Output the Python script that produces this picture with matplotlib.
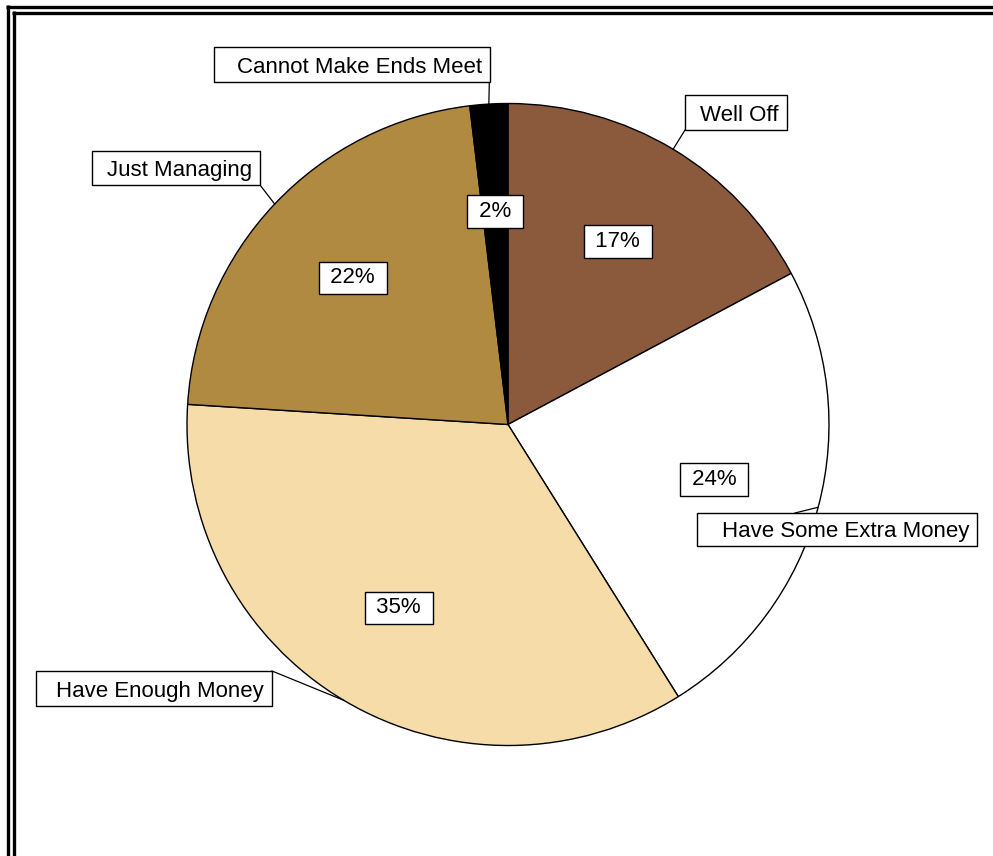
import matplotlib
matplotlib.use('Agg')
import matplotlib.pyplot as plt
import numpy as np
from matplotlib.patches import Rectangle
from matplotlib.lines import Line2D

categories = ["Well Off", "Have Some Extra Money", "Have Enough Money",
              "Just Managing", "Cannot Make Ends Meet"]
values = [17.2, 23.9, 34.9, 22.1, 1.9]
colors = ["#8B5A3C", "#FFFFFF", "#F5DCA8", "#B08A40", "#000000"]

plt.rcParams['font.family'] = ['Liberation Sans', 'DejaVu Sans']

W, H = 993, 856
fig = plt.figure(figsize=(W / 100, H / 100), dpi=100)
ax = fig.add_axes([0, 0, 1, 1])

cx, cy, R = 508, H - 424.5, 321
wedges, texts, autotexts = ax.pie(
    values, colors=colors, startangle=90, counterclock=False,
    center=(cx, cy), radius=R,
    autopct=lambda p: f" {p:.0f}% ", pctdistance=0.665,
    wedgeprops=dict(edgecolor='black', linewidth=1),
    textprops=dict(fontsize=16, color='black'), frame=True)
for t in autotexts:
    t.set_bbox(dict(boxstyle='square,pad=0.26', facecolor='white',
                    edgecolor='black', linewidth=1))
    t.set_zorder(5)

# label boxes layout (pixel coords: x0, y0(top), x1, y1(bottom)) and leader start
label_layout = {
    "Well Off": ((685, 95, 787, 130), (685, 130)),
    "Have Some Extra Money": ((697, 513, 977, 546), (795, 513)),
    "Have Enough Money": ((36, 671, 272, 706), (272, 671)),
    "Just Managing": ((92, 151, 260, 185), (260, 185)),
    "Cannot Make Ends Meet": ((214, 47, 490, 82), (490, 50)),
}

for w, name in zip(wedges, categories):
    (x0, y0, x1, y1), (lx, ly) = label_layout[name]
    mid = np.deg2rad((w.theta1 + w.theta2) / 2)
    ex, ey = cx + R * np.cos(mid), cy + R * np.sin(mid)
    ax.plot([lx, ex], [H - ly, ey], color='black', linewidth=0.9, zorder=3)
    ax.add_patch(Rectangle((x0, H - y1), x1 - x0, y1 - y0, facecolor='white',
                           edgecolor='black', linewidth=1, zorder=4))
    ax.text(x1 - 8, H - (y0 + y1) / 2, name, ha='right', va='center_baseline',
            fontsize=16, color='black', zorder=5)

ax.set_xlim(0, W)
ax.set_ylim(0, H)
ax.set_aspect('auto')
ax.axis('off')

# double frame (pixel positions, butt caps meeting at corners)
lw_pt = 2.4
hw = lw_pt * 100 / 72 / 2
for xv, yh in ((8, 7), (13.5, 12.5)):
    fig.add_artist(Line2D([xv / W, xv / W], [0, 1 - (yh - hw) / H], color='black',
                          linewidth=lw_pt, solid_capstyle='butt',
                          transform=fig.transFigure))
    fig.add_artist(Line2D([(xv - hw) / W, 1], [1 - yh / H, 1 - yh / H],
                          color='black', linewidth=lw_pt, solid_capstyle='butt',
                          transform=fig.transFigure))

fig.savefig('out.png', dpi=100, facecolor='white')
